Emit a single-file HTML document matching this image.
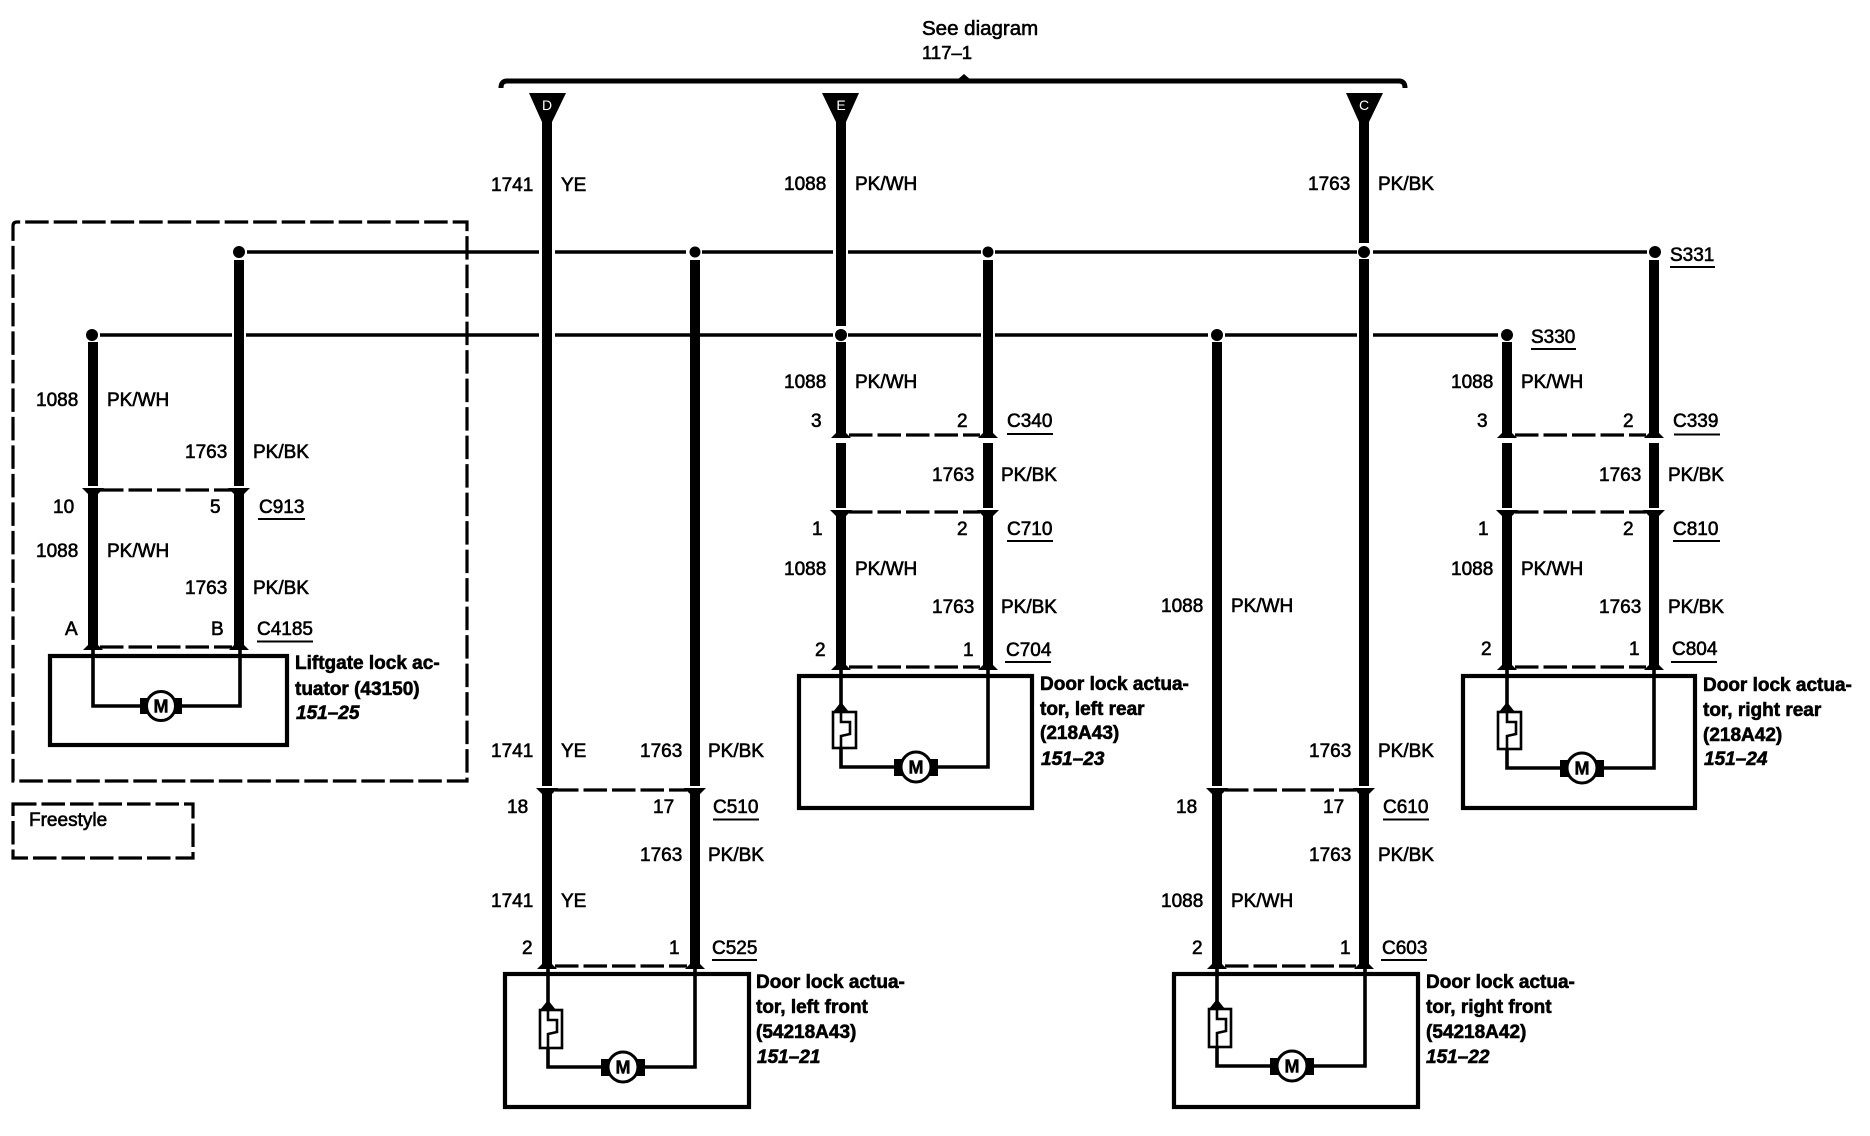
<!DOCTYPE html>
<html lang="en"><head><meta charset="utf-8"><title>Door lock wiring diagram</title>
<style>
html,body{margin:0;padding:0;background:#fff}
svg{display:block}
text{font-family:"Liberation Sans",sans-serif;font-size:19px;fill:#000;stroke:#000;stroke-width:.6px}
.b{font-weight:700}
.i{font-weight:700;font-style:italic}
.w{fill:#fff;stroke:none;font-size:14px;text-anchor:middle}
.m{font-weight:700;font-size:18px;text-anchor:middle;stroke-width:.5px}
.tk{stroke:#000;stroke-width:10;fill:none}
.tn{stroke:#000;stroke-width:3.4;fill:none}
.in{stroke:#000;stroke-width:3.6;fill:none}
.box{stroke:#000;stroke-width:4.2;fill:none}
.dash{stroke:#000;stroke-width:3.2;fill:none;stroke-dasharray:23.5 5}
.u{stroke:#000;stroke-width:2;fill:none}
.brk{stroke:#000;stroke-width:2.6;fill:none}
</style></head><body>
<svg width="1870" height="1136" viewBox="0 0 1870 1136" xmlns="http://www.w3.org/2000/svg">
<rect width="1870" height="1136" fill="#fff"/>

<!-- bus bracket -->
<path d="M501 88Q501 81 507 81H1399Q1405 81 1405 88" fill="none" stroke="#000" stroke-width="5"/>
<polygon points="957,80 964,74 971,80" fill="#000"/>
<polygon points="529,93 566,93 552,122 542,122" fill="#000"/>
<polygon points="822,93 859,93 846,122 836,122" fill="#000"/>
<polygon points="1346,93 1383,93 1369,122 1359,122" fill="#000"/>
<text class="w" x="547" y="110">D</text>
<text class="w" x="841" y="110">E</text>
<text class="w" x="1364" y="110">C</text>

<!-- dashed area boxes -->
<path class="dash" d="M13 240V226Q13 222 17 222H467V781H13Z" stroke-dashoffset="0"/>
<path class="dash" d="M13 804H193V858H13Z"/>

<!-- thin horizontal wires -->
<path class="tn" d="M247 252H539M555 252H686M702 252H833M848 252H981M995 252H1357M1373 252H1647"/>
<path class="tn" d="M100 335H232M246 335H539M555 335H833M848 335H981M995 335H1208M1225 335H1357M1373 335H1498"/>

<!-- splice dots -->
<g fill="#000">
<circle cx="239" cy="252" r="6"/><circle cx="92" cy="335" r="6"/>
<circle cx="695" cy="252" r="5.5"/><circle cx="988" cy="252" r="5.5"/>
<circle cx="1364" cy="252" r="6"/><circle cx="841" cy="335" r="6"/>
<circle cx="1217" cy="335" r="6"/><circle cx="1507" cy="335" r="6"/>
<circle cx="1655" cy="252" r="6"/>
</g>

<!-- thick wires -->
<path class="tk" d="M93 342V486M93 490V647"/>
<path class="tk" d="M239 260V486M239 490V647"/>
<path class="tk" d="M547 120V786M547 790V966"/>
<path class="tk" d="M695 260V786M695 790V966"/>
<path class="tk" d="M841 120V326M841 342V436M841 443V508M841 512V667"/>
<path class="tk" d="M988 260V436M988 443V508M988 512V667"/>
<path class="tk" d="M1217 342V786M1217 790V966"/>
<path class="tk" d="M1364 120V243M1364 259V786M1364 790V966"/>
<path class="tk" d="M1507 342V436M1507 443V508M1507 512V667"/>
<path class="tk" d="M1654 260V436M1654 443V508M1654 512V667"/>

<!-- connector dashed lines -->
<path class="dash" d="M100 490H232"/>
<path class="dash" d="M100 647H232"/>
<path class="dash" d="M555 790H687"/>
<path class="dash" d="M555 966H687"/>
<path class="dash" d="M1225 790H1356"/>
<path class="dash" d="M1225 966H1356"/>
<path class="dash" d="M849 435H980"/>
<path class="dash" d="M849 512H980"/>
<path class="dash" d="M849 667H980"/>
<path class="dash" d="M1515 435H1646"/>
<path class="dash" d="M1515 512H1646"/>
<path class="dash" d="M1515 667H1646"/>

<!-- connector arrowheads -->
<g fill="#000">
<polygon points="82,488 104,488 93,499"/><polygon points="228,488 250,488 239,499"/>
<polygon points="83,650 103,650 93,640"/><polygon points="229,650 249,650 239,640"/>
<polygon points="536,788 558,788 547,799"/><polygon points="684,788 706,788 695,799"/>
<polygon points="537,969 557,969 547,959"/><polygon points="685,969 705,969 695,959"/>
<polygon points="1206,788 1228,788 1217,799"/><polygon points="1353,788 1375,788 1364,799"/>
<polygon points="1207,969 1227,969 1217,959"/><polygon points="1354,969 1374,969 1364,959"/>
<polygon points="831,438 851,438 841,428"/><polygon points="978,438 998,438 988,428"/>
<polygon points="830,510 852,510 841,521"/><polygon points="977,510 999,510 988,521"/>
<polygon points="831,670 851,670 841,660"/><polygon points="978,670 998,670 988,660"/>
<polygon points="1497,438 1517,438 1507,428"/><polygon points="1644,438 1664,438 1654,428"/>
<polygon points="1496,510 1518,510 1507,521"/><polygon points="1643,510 1665,510 1654,521"/>
<polygon points="1497,670 1517,670 1507,660"/><polygon points="1644,670 1664,670 1654,660"/>
</g>

<!-- component boxes -->
<rect class="box" x="50" y="656" width="237" height="89"/>
<rect class="box" x="505" y="974" width="244" height="133"/>
<rect class="box" x="1174" y="974" width="244" height="133"/>
<rect class="box" x="799" y="676" width="233" height="132"/>
<rect class="box" x="1463" y="676" width="232" height="132"/>

<!-- inner wires -->
<path class="in" d="M93 647V706H147M175 706H240V647"/>
<path class="in" d="M548 966V1010M548 1048V1067H609M637 1067H695V966"/>
<path class="in" d="M1217 966V1009M1217 1047V1066H1278M1306 1066H1365V966"/>
<path class="in" d="M841 667V712M841 748V767H902M930 767H988V667"/>
<path class="in" d="M1507 667V712M1507 749V768H1568M1596 768H1654V667"/>

<!-- breakers -->
<g>
<rect class="brk" x="540" y="1010" width="22" height="38"/>
<path class="brk" d="M548 1010V1020H557V1032L548 1034V1048"/>
<polygon points="540,1010 556,1010 548,1000" fill="#000"/>
<rect class="brk" x="1209" y="1009" width="22" height="38"/>
<path class="brk" d="M1217 1009V1019H1226V1031L1217 1033V1047"/>
<polygon points="1209,1009 1225,1009 1217,999" fill="#000"/>
<rect class="brk" x="833" y="712" width="23" height="36"/>
<path class="brk" d="M841 712V722H850V734L841 736V748"/>
<polygon points="833,712 849,712 841,702" fill="#000"/>
<rect class="brk" x="1498" y="712" width="23" height="37"/>
<path class="brk" d="M1507 712V722H1516V734L1507 736V749"/>
<polygon points="1499,712 1515,712 1507,702" fill="#000"/>
</g>

<!-- motors -->
<g fill="#000">
<rect x="140" y="698" width="8" height="16"/><rect x="174" y="698" width="8" height="16"/>
<rect x="601" y="1059" width="8" height="17"/><rect x="637" y="1059" width="8" height="17"/>
<rect x="1270" y="1058" width="8" height="17"/><rect x="1306" y="1058" width="8" height="17"/>
<rect x="894" y="759" width="8" height="17"/><rect x="930" y="759" width="8" height="17"/>
<rect x="1560" y="760" width="8" height="17"/><rect x="1596" y="760" width="8" height="17"/>
</g>
<g fill="#fff" stroke="#000" stroke-width="3">
<circle cx="161" cy="706" r="14.5"/><circle cx="623" cy="1067" r="15"/>
<circle cx="1292" cy="1066" r="15"/><circle cx="916" cy="767" r="15"/>
<circle cx="1582" cy="768" r="15"/>
</g>
<text class="m" x="161" y="712.5">M</text>
<text class="m" x="623" y="1073.5">M</text>
<text class="m" x="1292" y="1072.5">M</text>
<text class="m" x="916" y="773.5">M</text>
<text class="m" x="1582" y="774.5">M</text>

<!-- underlines -->
<path class="u" d="M258 519H305M257 641.5H313M713 819.5H759M712 960H757M1007 434H1053M1007 541H1053M1005 662H1051M1670 267H1715M1531 349H1576M1674 434.5H1720M1673 541H1720M1671 662H1717M1383 819.5H1429M1381 960H1427"/>

<!-- top labels -->
<text x="922" y="35" style="font-size:20.5px">See diagram</text>
<text x="922" y="59" style="font-size:18.5px">117–1</text>
<text x="491" y="191">1741</text><text x="561" y="191">YE</text>
<text x="784" y="190">1088</text><text x="855" y="190">PK/WH</text>
<text x="1308" y="190">1763</text><text x="1378" y="190">PK/BK</text>

<!-- liftgate -->
<text x="36" y="406">1088</text><text x="107" y="406">PK/WH</text>
<text x="185" y="458">1763</text><text x="253" y="458">PK/BK</text>
<text x="53" y="513">10</text><text x="210" y="513">5</text><text x="259" y="513">C913</text>
<text x="36" y="557">1088</text><text x="107" y="557">PK/WH</text>
<text x="185" y="594">1763</text><text x="253" y="594">PK/BK</text>
<text x="65" y="635">A</text><text x="211" y="635">B</text><text x="257" y="635">C4185</text>
<text class="b" x="295" y="669">Liftgate lock ac-</text>
<text class="b" x="295" y="695">tuator (43150)</text>
<text class="i" x="296" y="719">151–25</text>
<text x="29" y="826">Freestyle</text>

<!-- left front -->
<text x="491" y="757">1741</text><text x="561" y="757">YE</text>
<text x="640" y="757">1763</text><text x="708" y="757">PK/BK</text>
<text x="507" y="813">18</text><text x="653" y="813">17</text><text x="713" y="813">C510</text>
<text x="640" y="861">1763</text><text x="708" y="861">PK/BK</text>
<text x="491" y="907">1741</text><text x="561" y="907">YE</text>
<text x="522" y="954">2</text><text x="669" y="954">1</text><text x="712" y="954">C525</text>
<text class="b" x="756" y="988">Door lock actua-</text>
<text class="b" x="756" y="1013">tor, left front</text>
<text class="b" x="756" y="1038">(54218A43)</text>
<text class="i" x="757" y="1063">151–21</text>

<!-- left rear -->
<text x="784" y="388">1088</text><text x="855" y="388">PK/WH</text>
<text x="811" y="427">3</text><text x="957" y="427">2</text><text x="1007" y="427">C340</text>
<text x="932" y="481">1763</text><text x="1001" y="481">PK/BK</text>
<text x="812" y="535">1</text><text x="957" y="535">2</text><text x="1007" y="535">C710</text>
<text x="784" y="575">1088</text><text x="855" y="575">PK/WH</text>
<text x="932" y="613">1763</text><text x="1001" y="613">PK/BK</text>
<text x="815" y="656">2</text><text x="963" y="656">1</text><text x="1006" y="656">C704</text>
<text class="b" x="1040" y="690">Door lock actua-</text>
<text class="b" x="1040" y="715">tor, left rear</text>
<text class="b" x="1040" y="739">(218A43)</text>
<text class="i" x="1041" y="765">151–23</text>

<!-- right front -->
<text x="1161" y="612">1088</text><text x="1231" y="612">PK/WH</text>
<text x="1309" y="757">1763</text><text x="1378" y="757">PK/BK</text>
<text x="1176" y="813">18</text><text x="1323" y="813">17</text><text x="1383" y="813">C610</text>
<text x="1309" y="861">1763</text><text x="1378" y="861">PK/BK</text>
<text x="1161" y="907">1088</text><text x="1231" y="907">PK/WH</text>
<text x="1192" y="954">2</text><text x="1340" y="954">1</text><text x="1382" y="954">C603</text>
<text class="b" x="1426" y="988">Door lock actua-</text>
<text class="b" x="1426" y="1013">tor, right front</text>
<text class="b" x="1426" y="1038">(54218A42)</text>
<text class="i" x="1426" y="1063">151–22</text>

<!-- right rear -->
<text x="1670" y="261">S331</text>
<text x="1531" y="343">S330</text>
<text x="1451" y="388">1088</text><text x="1521" y="388">PK/WH</text>
<text x="1477" y="427">3</text><text x="1623" y="427">2</text><text x="1673" y="427">C339</text>
<text x="1599" y="481">1763</text><text x="1668" y="481">PK/BK</text>
<text x="1478" y="535">1</text><text x="1623" y="535">2</text><text x="1673" y="535">C810</text>
<text x="1451" y="575">1088</text><text x="1521" y="575">PK/WH</text>
<text x="1599" y="613">1763</text><text x="1668" y="613">PK/BK</text>
<text x="1481" y="655">2</text><text x="1629" y="655">1</text><text x="1672" y="655">C804</text>
<text class="b" x="1703" y="691">Door lock actua-</text>
<text class="b" x="1703" y="716">tor, right rear</text>
<text class="b" x="1703" y="741">(218A42)</text>
<text class="i" x="1704" y="765">151–24</text>
</svg>
</body></html>
